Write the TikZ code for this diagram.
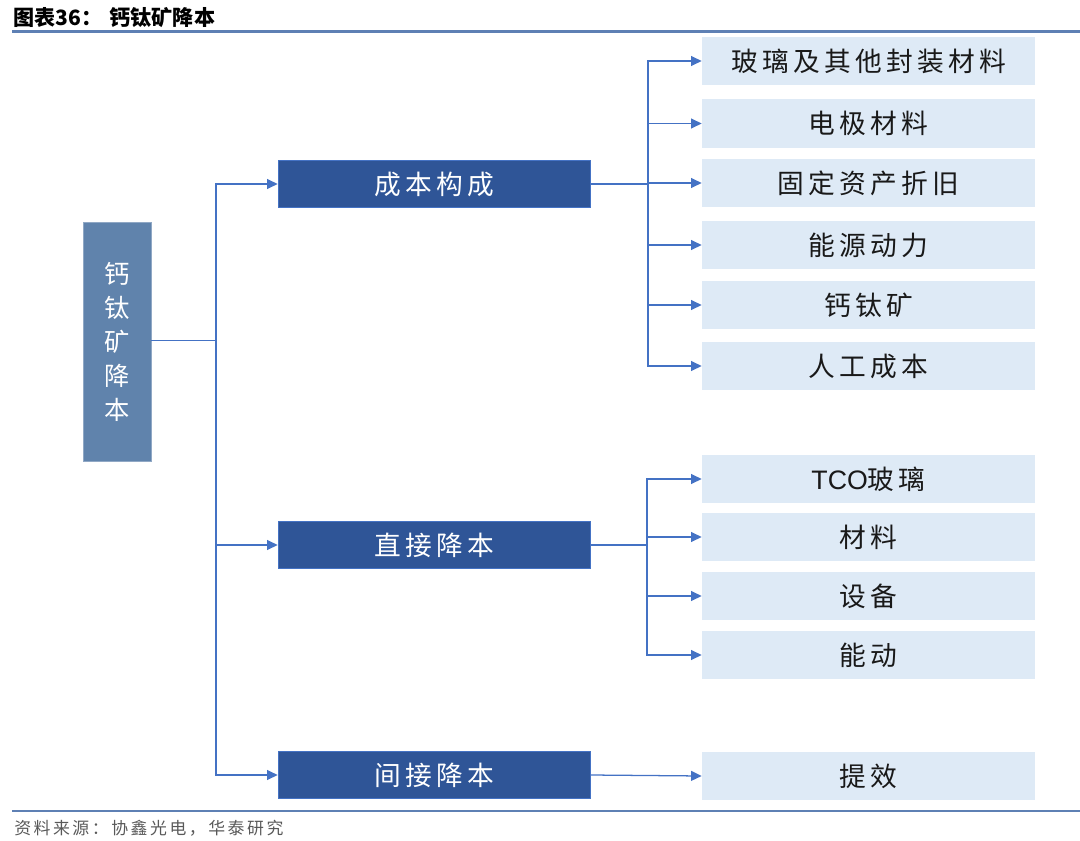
\documentclass[tikz,border=0pt]{standalone}
\usepackage{fontspec}
\usepackage{xcolor}
\usepackage{tikz}
\usetikzlibrary{arrows.meta}

\setmainfont{Noto Sans CJK SC}
\newfontfamily\boxfont[LetterSpace=16]{Noto Sans CJK SC}
\newfontfamily\notefont[LetterSpace=15]{Noto Sans CJK SC}
\newfontfamily\latinfont{Liberation Sans}

\definecolor{rootblue}{HTML}{6083AC}
\definecolor{darkblue}{HTML}{2F5597}
\definecolor{paleblue}{HTML}{DEEAF6}
\definecolor{linkblue}{HTML}{4472C4}
\definecolor{ruleblue}{HTML}{5E80B4}
\definecolor{notegray}{HTML}{595959}

\tikzset{
    rootbox/.style={fill=rootblue, draw=rootblue!70!white, inner sep=0pt,
        minimum width=1.7cm, minimum height=5.975cm, text=white, align=center,
        font={\boxfont\fontsize{18}{24.2}\selectfont}},
    midbox/.style={fill=darkblue, draw=linkblue, inner sep=0pt,
        minimum width=7.8cm, minimum height=1.175cm, text=white,
        font={\boxfont\fontsize{19}{22}\selectfont}},
    leafbox/.style={fill=paleblue, inner sep=0pt,
        minimum width=8.325cm, minimum height=1.2cm, text=black!90,
        font={\boxfont\fontsize{19}{22}\selectfont}},
    link/.style={draw=linkblue, line width=0.9pt, -{Triangle[length=7.5pt,width=7pt]}},
    rulebar/.style={draw=ruleblue, line width=1.5pt},
}

\begin{document}
\begin{tikzpicture}[x=0.025cm, y=-0.025cm]
    \useasboundingbox (0,0) rectangle (1080,841);

    % title and source
    \node[anchor=west, inner sep=0pt, font={\bfseries\fontsize{15}{18}\selectfont}] (title) at (13,17.5) {图表36：\hspace{0.35em}钙钛矿降本};
    \coordinate (t0) at (12,31.5);
    \coordinate (t1) at (1080,31.5);
    \draw[rulebar] (t0) -- (t1);

    \coordinate (s0) at (12,811);
    \coordinate (s1) at (1080,811);
    \draw[rulebar] (s0) -- (s1);
    \node[anchor=west, inner sep=0pt, text=notegray, font={\notefont\fontsize{12}{14}\selectfont}] (source) at (14,828.5) {资料来源：协鑫光电，华泰研究};

    % boxes
    \node[rootbox] (root) at (117,342) {钙\\钛\\矿\\降\\本};

    \node[midbox] (cost)     at (434,184) {成本构成};
    \node[midbox] (direct)   at (434,545) {直接降本};
    \node[midbox] (indirect) at (434,775) {间接降本};

    \foreach \name/\y/\txt in {glass/61/玻璃及其他封装材料, electrode/123.5/电极材料,
        depreciation/183/固定资产折旧, power/245/能源动力, perovskite/305/钙钛矿,
        labour/366/人工成本}
        \node[leafbox] (\name) at (868.5,\y) {\txt};

    \foreach \name/\y/\txt in {tco/479/{{\latinfont TCO}玻璃}, material/537/材料, equipment/596/设备,
        energy/655/能动}
        \node[leafbox] (\name) at (868.5,\y) {\txt};

    \node[leafbox] (efficiency) at (868.5,776) {提效};

    % connectors
    \coordinate (j0) at (216,340.5);
    \coordinate (j1) at (648,184);
    \coordinate (j2) at (647,545);

    \foreach \name in {cost,direct,indirect}
        \draw[link] (root.east |- j0) -- (j0) |- (\name.west);

    \foreach \name in {glass,electrode,depreciation,power,perovskite,labour}
        \draw[link] (cost.east) -- (j1) |- (\name.west);

    \foreach \name in {tco,material,equipment,energy}
        \draw[link] (direct.east) -- (j2) |- (\name.west);

    \draw[link] (indirect.east) -- (efficiency.west);
\end{tikzpicture}
\end{document}
